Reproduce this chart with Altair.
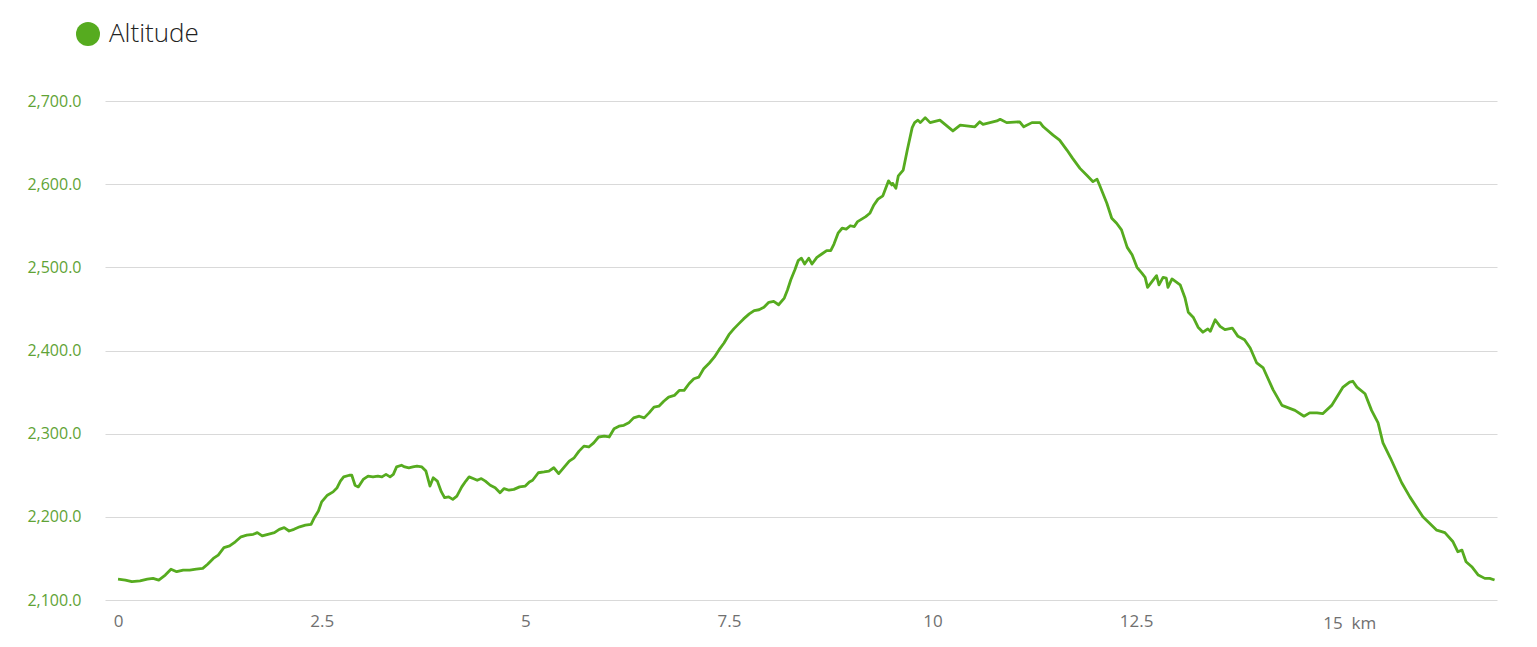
import altair as alt
import pandas as pd

km = [0.00, 0.09, 0.17, 0.27, 0.36, 0.43, 0.50, 0.58, 0.65, 0.72, 0.80, 0.88, 0.96, 1.04, 1.10,
      1.17, 1.23, 1.30, 1.37, 1.44, 1.51, 1.58, 1.66, 1.71, 1.77, 1.84, 1.92, 1.98, 2.04, 2.10,
      2.16, 2.23, 2.30, 2.37, 2.41, 2.46, 2.50, 2.57, 2.64, 2.69, 2.73, 2.77, 2.84, 2.87, 2.91,
      2.95, 3.01, 3.07, 3.13, 3.19, 3.24, 3.29, 3.34, 3.38, 3.42, 3.48, 3.52, 3.57, 3.62, 3.67,
      3.73, 3.78, 3.83, 3.87, 3.92, 3.97, 4.01, 4.06, 4.11, 4.16, 4.22, 4.27, 4.31, 4.36, 4.41,
      4.46, 4.51, 4.57, 4.63, 4.69, 4.74, 4.80, 4.86, 4.93, 5.00, 5.05, 5.09, 5.16, 5.23, 5.29,
      5.35, 5.41, 5.48, 5.54, 5.60, 5.66, 5.72, 5.78, 5.84, 5.90, 5.97, 6.03, 6.09, 6.15, 6.21,
      6.27, 6.33, 6.40, 6.46, 6.52, 6.58, 6.64, 6.70, 6.76, 6.83, 6.89, 6.95, 7.01, 7.07, 7.13,
      7.19, 7.26, 7.32, 7.38, 7.44, 7.50, 7.56, 7.62, 7.68, 7.75, 7.81, 7.87, 7.93, 7.99, 8.05,
      8.11, 8.18, 8.22, 8.26, 8.31, 8.35, 8.39, 8.43, 8.48, 8.52, 8.58, 8.64, 8.70, 8.75, 8.79,
      8.84, 8.89, 8.94, 8.99, 9.04, 9.08, 9.13, 9.18, 9.23, 9.28, 9.33, 9.39, 9.46, 9.50, 9.51,
      9.55, 9.58, 9.64, 9.69, 9.75, 9.78, 9.82, 9.85, 9.91, 9.97, 10.09, 10.25, 10.34, 10.52, 10.58,
      10.62, 10.79, 10.83, 10.91, 11.07, 11.12, 11.22, 11.32, 11.36, 11.48, 11.56, 11.65, 11.72, 11.81, 11.90,
      11.97, 12.02, 12.05, 12.14, 12.20, 12.26, 12.32, 12.39, 12.45, 12.51, 12.57, 12.61, 12.64, 12.71, 12.75,
      12.78, 12.83, 12.87, 12.89, 12.94, 13.04, 13.10, 13.14, 13.20, 13.26, 13.32, 13.38, 13.41, 13.47, 13.53,
      13.59, 13.68, 13.75, 13.83, 13.90, 13.98, 14.06, 14.18, 14.29, 14.45, 14.56, 14.63, 14.72, 14.79, 14.90,
      15.04, 15.12, 15.16, 15.21, 15.31, 15.39, 15.47, 15.53, 15.62, 15.76, 15.86, 16.02, 16.19, 16.29, 16.39,
      16.45, 16.50, 16.55, 16.62, 16.70, 16.78, 16.84, 16.90]

altitude = [2125, 2124, 2122, 2123, 2125, 2126, 2124, 2130, 2137, 2134, 2136, 2136, 2137, 2138, 2143,
            2150, 2154, 2163, 2165, 2170, 2176, 2178, 2179, 2181, 2177, 2179, 2181, 2185, 2187, 2183,
            2185, 2188, 2190, 2191, 2199, 2207, 2218, 2226, 2230, 2235, 2243, 2248, 2250, 2250, 2238,
            2236, 2245, 2249, 2248, 2249, 2248, 2251, 2248, 2251, 2260, 2262, 2260, 2259, 2260, 2261,
            2260, 2255, 2237, 2247, 2243, 2230, 2223, 2224, 2221, 2225, 2236, 2243, 2248, 2246, 2244,
            2246, 2243, 2238, 2235, 2229, 2234, 2232, 2233, 2236, 2237, 2242, 2244, 2253, 2254, 2255,
            2259, 2252, 2260, 2267, 2271, 2279, 2285, 2284, 2289, 2296, 2297, 2296, 2306, 2309, 2310,
            2313, 2319, 2321, 2319, 2325, 2332, 2333, 2339, 2344, 2346, 2352, 2352, 2360, 2366, 2368,
            2378, 2385, 2392, 2401, 2409, 2419, 2426, 2432, 2438, 2444, 2448, 2449, 2452, 2458, 2459,
            2455, 2463, 2473, 2485, 2497, 2508, 2511, 2504, 2511, 2504, 2512, 2516, 2520, 2520, 2528,
            2541, 2547, 2546, 2550, 2549, 2555, 2558, 2561, 2565, 2575, 2582, 2586, 2604, 2599, 2601,
            2595, 2610, 2617, 2641, 2668, 2674, 2677, 2674, 2680, 2674, 2677, 2664, 2671, 2669, 2675,
            2672, 2676, 2678, 2674, 2675, 2669, 2674, 2674, 2669, 2659, 2653, 2641, 2631, 2619, 2610,
            2603, 2606, 2599, 2577, 2559, 2553, 2545, 2524, 2515, 2500, 2493, 2488, 2476, 2485, 2490,
            2479, 2488, 2487, 2476, 2486, 2479, 2463, 2446, 2440, 2428, 2422, 2426, 2423, 2437, 2429,
            2425, 2427, 2417, 2413, 2403, 2385, 2379, 2353, 2334, 2328, 2321, 2325, 2325, 2324, 2334,
            2356, 2362, 2363, 2356, 2348, 2328, 2313, 2289, 2271, 2241, 2224, 2200, 2184, 2181, 2170,
            2158, 2160, 2146, 2140, 2130, 2126, 2126, 2124]

x_ticks = [0, 2.5, 5, 7.5, 10, 12.5, 15]
y_ticks = [2100, 2200, 2300, 2400, 2500, 2600, 2700]
series_name = "Altitude"
last_tick_label = "15\u00a0\u00a0km"

df = pd.DataFrame({"km": km, "alt": altitude, "series": series_name})
unit_df = pd.DataFrame({"km": [15], "alt": [2100], "t": [last_tick_label]})

FONT = "Open Sans"
GREEN = "#56ab1f"
XGRAY = "#707070"

x_scale = alt.Scale(domain=[-0.16, 16.93], nice=False, zero=False)
y_scale = alt.Scale(domain=[2100, 2700], nice=False, zero=False)

line = alt.Chart(df).mark_line(strokeWidth=2.8, strokeJoin="round").encode(
    x=alt.X("km:Q", scale=x_scale,
            axis=alt.Axis(values=x_ticks, title=None, grid=False, domain=False, ticks=False,
                          labelFont=FONT, labelFontSize=17, labelColor=XGRAY,
                          labelPadding=13, labelFlush=False,
                          labelExpr="datum.value == 15 ? '' : (datum.value == 0 ? '0' : format(datum.value, '.1~f'))")),
    y=alt.Y("alt:Q", scale=y_scale,
            axis=alt.Axis(values=y_ticks, title=None, format=",.1f", grid=True,
                          gridColor="#d9d9d9", gridWidth=1.2, domain=False, ticks=False,
                          labelFont=FONT, labelFontSize=16, labelColor="#5fa336",
                          labelPadding=24)),
    color=alt.Color("series:N", scale=alt.Scale(range=[GREEN]),
                    legend=alt.Legend(title=None, orient="none", legendX=-30, legendY=-80,
                                      symbolType="circle", symbolSize=576, symbolFillColor=GREEN,
                                      symbolStrokeWidth=0, labelFont=FONT, labelFontSize=26,
                                      labelFontWeight=300, labelColor="#222222", labelOffset=8)),
)

unit = alt.Chart(unit_df).mark_text(font=FONT, fontSize=17, color=XGRAY, align="center",
                                    baseline="middle", dx=10, dy=24).encode(
    x=alt.X("km:Q", scale=x_scale), y=alt.Y("alt:Q", scale=y_scale), text="t:N")

chart = alt.layer(line, unit).properties(
    width=1392, height=499,
    autosize=alt.AutoSizeParams(type="none"),
    padding={"left": 97, "top": 93, "right": 20, "bottom": 30},
).configure_view(stroke=None)

chart.save("out.html", embed_options={"renderer": "svg", "actions": False})
